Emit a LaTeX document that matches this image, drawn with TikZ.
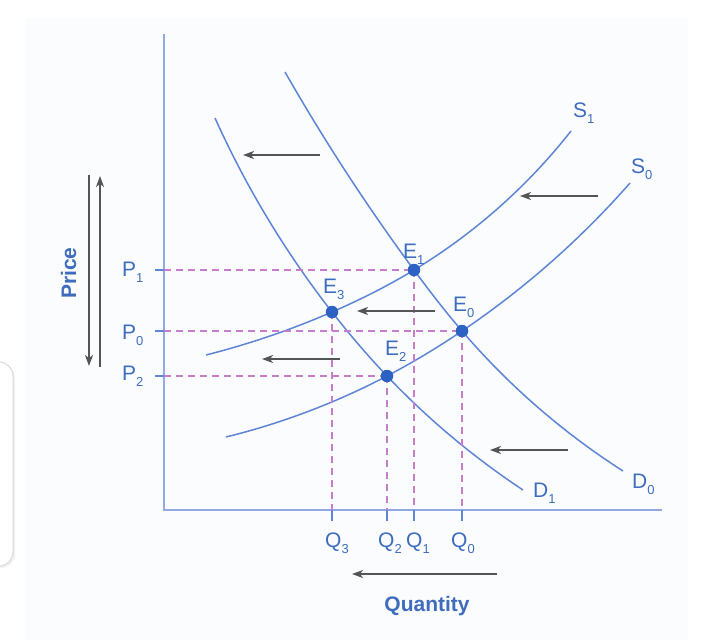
\documentclass[tikz,border=0pt]{standalone}
\usepackage{fontspec}
\setmainfont{Liberation Sans}
\usetikzlibrary{arrows.meta,hobby}
\definecolor{curveblue}{HTML}{5E85D6}
\definecolor{axisblue}{HTML}{93A8E2}
\definecolor{textblue}{HTML}{3E6DBE}
\definecolor{dotblue}{HTML}{2C62C4}
\definecolor{dashpink}{HTML}{C87CCB}
\definecolor{arrowgray}{HTML}{555555}
\definecolor{panel}{HTML}{FBFCFE}
\newcommand\lbl[2]{#1\raisebox{-6pt}{\fontsize{13}{13}\selectfont #2}}
\tikzset{
  curveline/.style={draw=curveblue, line width=1.5pt, use Hobby shortcut},
  axisline/.style={draw=axisblue, line width=2.4pt},
  tickline/.style={draw=curveblue, line width=1.4pt},
  guide/.style={draw=dashpink, line width=1.5pt, dash pattern=on 7pt off 5pt},
  shiftarrow/.style={draw=arrowgray, line width=1.6pt, -{Stealth[length=11pt,width=8pt,inset=3pt]}},
  eqdot/.style={circle, fill=dotblue, inner sep=0pt, minimum size=12.5pt},
  lab/.style={text=textblue, font=\fontsize{21}{21}\selectfont, inner sep=0pt, anchor=base west},
  axlab/.style={text=textblue, font=\fontsize{21}{21}\selectfont\bfseries, inner sep=0pt},
}
\begin{document}
\begin{tikzpicture}[x=1pt,y=-1pt]
\useasboundingbox (0,0) rectangle (720,640);
\fill[white] (0,0) rectangle (720,640);
\fill[panel] (25,18) rectangle (688,640);
% side card
\fill[black!6, rounded corners=14pt] (-40,364) rectangle (15,568);
\filldraw[fill=white, draw=black!15, line width=1pt, rounded corners=14pt] (-40,362) rectangle (13,566);

% axes
\coordinate (top) at (164,34);
\coordinate (origin) at (164,510);
\coordinate (right) at (662,510);
\draw[axisline] (top) -- (origin) -- (right);

% equilibrium points
\coordinate (e1) at (414,270);
\coordinate (e3) at (332,312);
\coordinate (e0) at (462,331);
\coordinate (e2) at (387,376);

% curve ends
\coordinate (d0a) at (285,72);  \coordinate (d0b) at (623,471);
\coordinate (d1a) at (215,118); \coordinate (d1b) at (523,490);
\coordinate (s1a) at (206,355); \coordinate (s1b) at (571,131);
\coordinate (s0a) at (226,437); \coordinate (s0b) at (630,183);

% curves
\draw[curveline] (d0a) .. (e1) .. (e0) .. (d0b);
\draw[curveline] (d1a) .. (e3) .. (e2) .. (d1b);
\draw[curveline] (s1a) .. (e3) .. (e1) .. (s1b);
\draw[curveline] (s0a) .. (e2) .. (e0) .. (s0b);

% axis coordinates
\coordinate (p1) at (164,270); \coordinate (p1t) at (155,270);
\coordinate (p0) at (164,331); \coordinate (p0t) at (155,331);
\coordinate (p2) at (164,376); \coordinate (p2t) at (155,376);
\coordinate (q3) at (332,510); \coordinate (q3t) at (332,521);
\coordinate (q2) at (387,510); \coordinate (q2t) at (387,521);
\coordinate (q1) at (414,510); \coordinate (q1t) at (414,521);
\coordinate (q0) at (462,510); \coordinate (q0t) at (462,521);

% guides
\draw[guide] (p1) -- (e1);
\draw[guide] (p0) -- (e0);
\draw[guide] (p2) -- (e2);
\draw[guide] (e3) -- (q3);
\draw[guide] (e2) -- (q2);
\draw[guide] (e1) -- (q1);
\draw[guide] (e0) -- (q0);

% ticks
\draw[tickline] (p1t) -- (p1);
\draw[tickline] (p0t) -- (p0);
\draw[tickline] (p2t) -- (p2);
\draw[tickline] (q3) -- (q3t);
\draw[tickline] (q2) -- (q2t);
\draw[tickline] (q1) -- (q1t);
\draw[tickline] (q0) -- (q0t);

\node[eqdot] (E1) at (e1) {};
\node[eqdot] (E3) at (e3) {};
\node[eqdot] (E0) at (e0) {};
\node[eqdot] (E2) at (e2) {};

% shift arrows
\coordinate (a1s) at (320,155); \coordinate (a1e) at (243,155);
\coordinate (a2s) at (598,196); \coordinate (a2e) at (520,196);
\coordinate (a3s) at (435,311); \coordinate (a3e) at (357,311);
\coordinate (a4s) at (340,359); \coordinate (a4e) at (262,359);
\coordinate (a5s) at (568,450); \coordinate (a5e) at (490,450);
\coordinate (a6s) at (497,574); \coordinate (a6e) at (352,574);
\coordinate (pds) at (89,175); \coordinate (pde) at (89,366);
\coordinate (pus) at (100,367); \coordinate (pue) at (100,176);
\draw[shiftarrow] (a1s) -- (a1e);
\draw[shiftarrow] (a2s) -- (a2e);
\draw[shiftarrow] (a3s) -- (a3e);
\draw[shiftarrow] (a4s) -- (a4e);
\draw[shiftarrow] (a5s) -- (a5e);
\draw[shiftarrow] (a6s) -- (a6e);
\draw[shiftarrow] (pds) -- (pde);
\draw[shiftarrow] (pus) -- (pue);

% labels
\node[lab] (lS1) at (573,117) {\lbl{S}{1}};
\node[lab] (lS0) at (631,173) {\lbl{S}{0}};
\node[lab] (lD1) at (533,497) {\lbl{D}{1}};
\node[lab] (lD0) at (632,488) {\lbl{D}{0}};
\node[lab] (lE1) at (403,258) {\lbl{E}{1}};
\node[lab] (lE3) at (323,293) {\lbl{E}{3}};
\node[lab] (lE0) at (453,311) {\lbl{E}{0}};
\node[lab] (lE2) at (385,355) {\lbl{E}{2}};
\node[lab] (lP1) at (122,276) {\lbl{P}{1}};
\node[lab] (lP0) at (122,339) {\lbl{P}{0}};
\node[lab] (lP2) at (122,380) {\lbl{P}{2}};
\node[lab] (lQ3) at (325,547) {\lbl{Q}{3}};
\node[lab] (lQ2) at (378,547) {\lbl{Q}{2}};
\node[lab] (lQ1) at (406,547) {\lbl{Q}{1}};
\node[lab] (lQ0) at (451,547) {\lbl{Q}{0}};
\node[axlab, anchor=base] (qty) at (427,611) {Quantity};
\node[axlab, rotate=90, anchor=base] (price) at (76,273) {Price};
\end{tikzpicture}
\end{document}
